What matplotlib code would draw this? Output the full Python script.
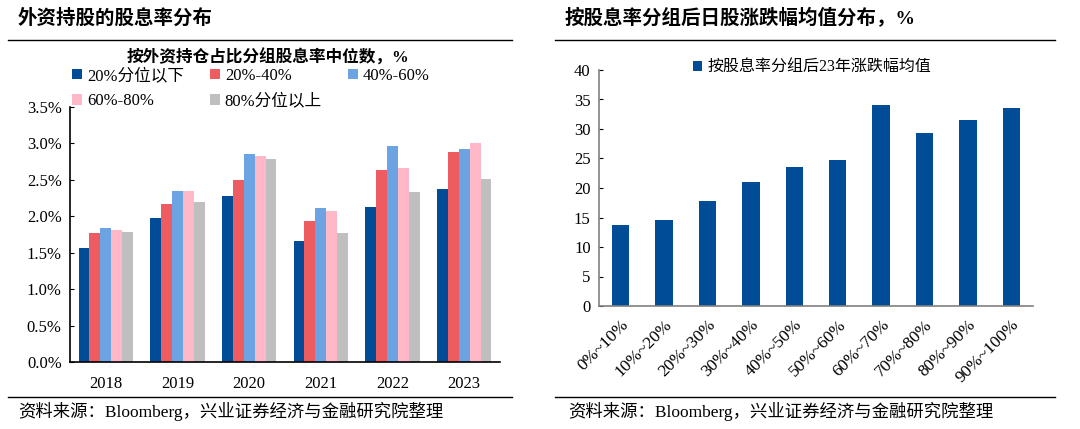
import numpy as np
import matplotlib.pyplot as plt
from matplotlib.lines import Line2D

plt.rcParams['font.family'] = ['Liberation Serif', 'Noto Sans CJK SC']

# left chart data
years = ['2018', '2019', '2020', '2021', '2022', '2023']
group_names = ['20%分位以下', '20%-40%', '40%-60%', '60%-80%', '80%分位以上']
q1 = [1.57, 1.97, 2.28, 1.66, 2.13, 2.37]
q2 = [1.77, 2.17, 2.50, 1.94, 2.63, 2.88]
q3 = [1.84, 2.35, 2.86, 2.11, 2.97, 2.93]
q4 = [1.81, 2.35, 2.83, 2.07, 2.66, 3.01]
q5 = [1.78, 2.20, 2.79, 1.77, 2.34, 2.51]
group_colors = ['#004C97', '#EE5B60', '#6CA3E3', '#FFB8C8', '#BFBFBF']

# right chart data
buckets = ['0%~10%', '10%~20%', '20%~30%', '30%~40%', '40%~50%',
           '50%~60%', '60%~70%', '70%~80%', '80%~90%', '90%~100%']
avg_change = [13.7, 14.6, 17.8, 21.1, 23.5, 24.7, 34.0, 29.4, 31.5, 33.6]

W, H = 1080, 429
fig = plt.figure(figsize=(W / 100, H / 100), dpi=100)

def fx(px):
    return px / W

def fy(py):
    return 1 - py / H

# ---- left chart
ax1 = fig.add_axes([fx(70), fy(362), fx(430), fy(107) - fy(362)])
x = np.arange(len(years))
bw = 0.152
series = [q1, q2, q3, q4, q5]
handles = []
for i, vals in enumerate(series):
    b = ax1.bar(x + (i - 2) * bw, vals, width=bw, color=group_colors[i], label=group_names[i])
    handles.append(b)
ax1.set_xlim(-0.5, len(years) - 0.5)
ax1.set_ylim(0, 3.5)
ax1.set_yticks(np.arange(0, 3.51, 0.5))
ax1.set_yticklabels([f'{v:.1f}%' for v in np.arange(0, 3.51, 0.5)], fontsize=12)
ax1.set_xticks(x)
ax1.set_xticklabels(years, fontsize=12)
ax1.tick_params(axis='x', length=0, pad=10)
ax1.tick_params(axis='y', direction='in', length=3, pad=6)
for s in ['top', 'right']:
    ax1.spines[s].set_visible(False)
for s in ['left', 'bottom']:
    ax1.spines[s].set_color('black')
    ax1.spines[s].set_linewidth(1.2)

order = [0, 3, 1, 4, 2]
ax1.legend([handles[i] for i in order], [group_names[i] for i in order],
           ncol=3, loc='upper left', bbox_to_anchor=(fx(72), fy(68)),
           bbox_transform=fig.transFigure, frameon=False, fontsize=12,
           handlelength=0.6, handleheight=0.6, handletextpad=0.3,
           columnspacing=1.55, labelspacing=0.55, borderaxespad=0, borderpad=0)

fig.text(fx(268), fy(58), '按外资持仓占比分组股息率中位数，%', ha='center', va='center',
         fontsize=12, fontweight='bold')

# ---- right chart
ax2 = fig.add_axes([fx(599), fy(306), fx(434), fy(70) - fy(306)])
xr = np.arange(len(buckets))
ax2.bar(xr, avg_change, width=0.4, color='#004C97', label='按股息率分组后23年涨跌幅均值')
ax2.set_xlim(-0.5, len(buckets) - 0.5)
ax2.set_ylim(0, 40)
ax2.set_yticks(np.arange(0, 41, 5))
ax2.tick_params(axis='y', labelsize=12, direction='in', length=3, pad=6)
ax2.set_xticks(xr)
ax2.set_xticklabels(buckets, rotation=45, ha='right', rotation_mode='anchor', fontsize=12.5)
ax2.tick_params(axis='x', length=0, pad=8)
for s in ['top', 'right']:
    ax2.spines[s].set_visible(False)
for s in ['left', 'bottom']:
    ax2.spines[s].set_color('#808080')
    ax2.spines[s].set_linewidth(1.2)
ax2.legend(loc='center', bbox_to_anchor=(fx(812), fy(68)), bbox_transform=fig.transFigure,
           frameon=False, fontsize=11.5, handlelength=0.6, handleheight=0.6,
           handletextpad=0.3, borderpad=0, borderaxespad=0)

# ---- titles, rules and sources
fig.text(fx(18), fy(18), '外资持股的股息率分布', ha='left', va='center',
         fontsize=14, fontweight='bold')
fig.text(fx(565), fy(18), '按股息率分组后日股涨跌幅均值分布，%', ha='left', va='center',
         fontsize=14, fontweight='bold')
for x0, x1 in [(8, 512), (555, 1055)]:
    for yy in (40, 397):
        fig.add_artist(Line2D([fx(x0), fx(x1)], [fy(yy), fy(yy)], transform=fig.transFigure,
                              color='black', linewidth=1.0))
fig.text(fx(18), fy(411), '资料来源：Bloomberg，兴业证券经济与金融研究院整理', ha='left', va='center',
         fontsize=12.5)
fig.text(fx(568), fy(411), '资料来源：Bloomberg，兴业证券经济与金融研究院整理', ha='left', va='center',
         fontsize=12.5)

fig.savefig('out.png', dpi=100)
